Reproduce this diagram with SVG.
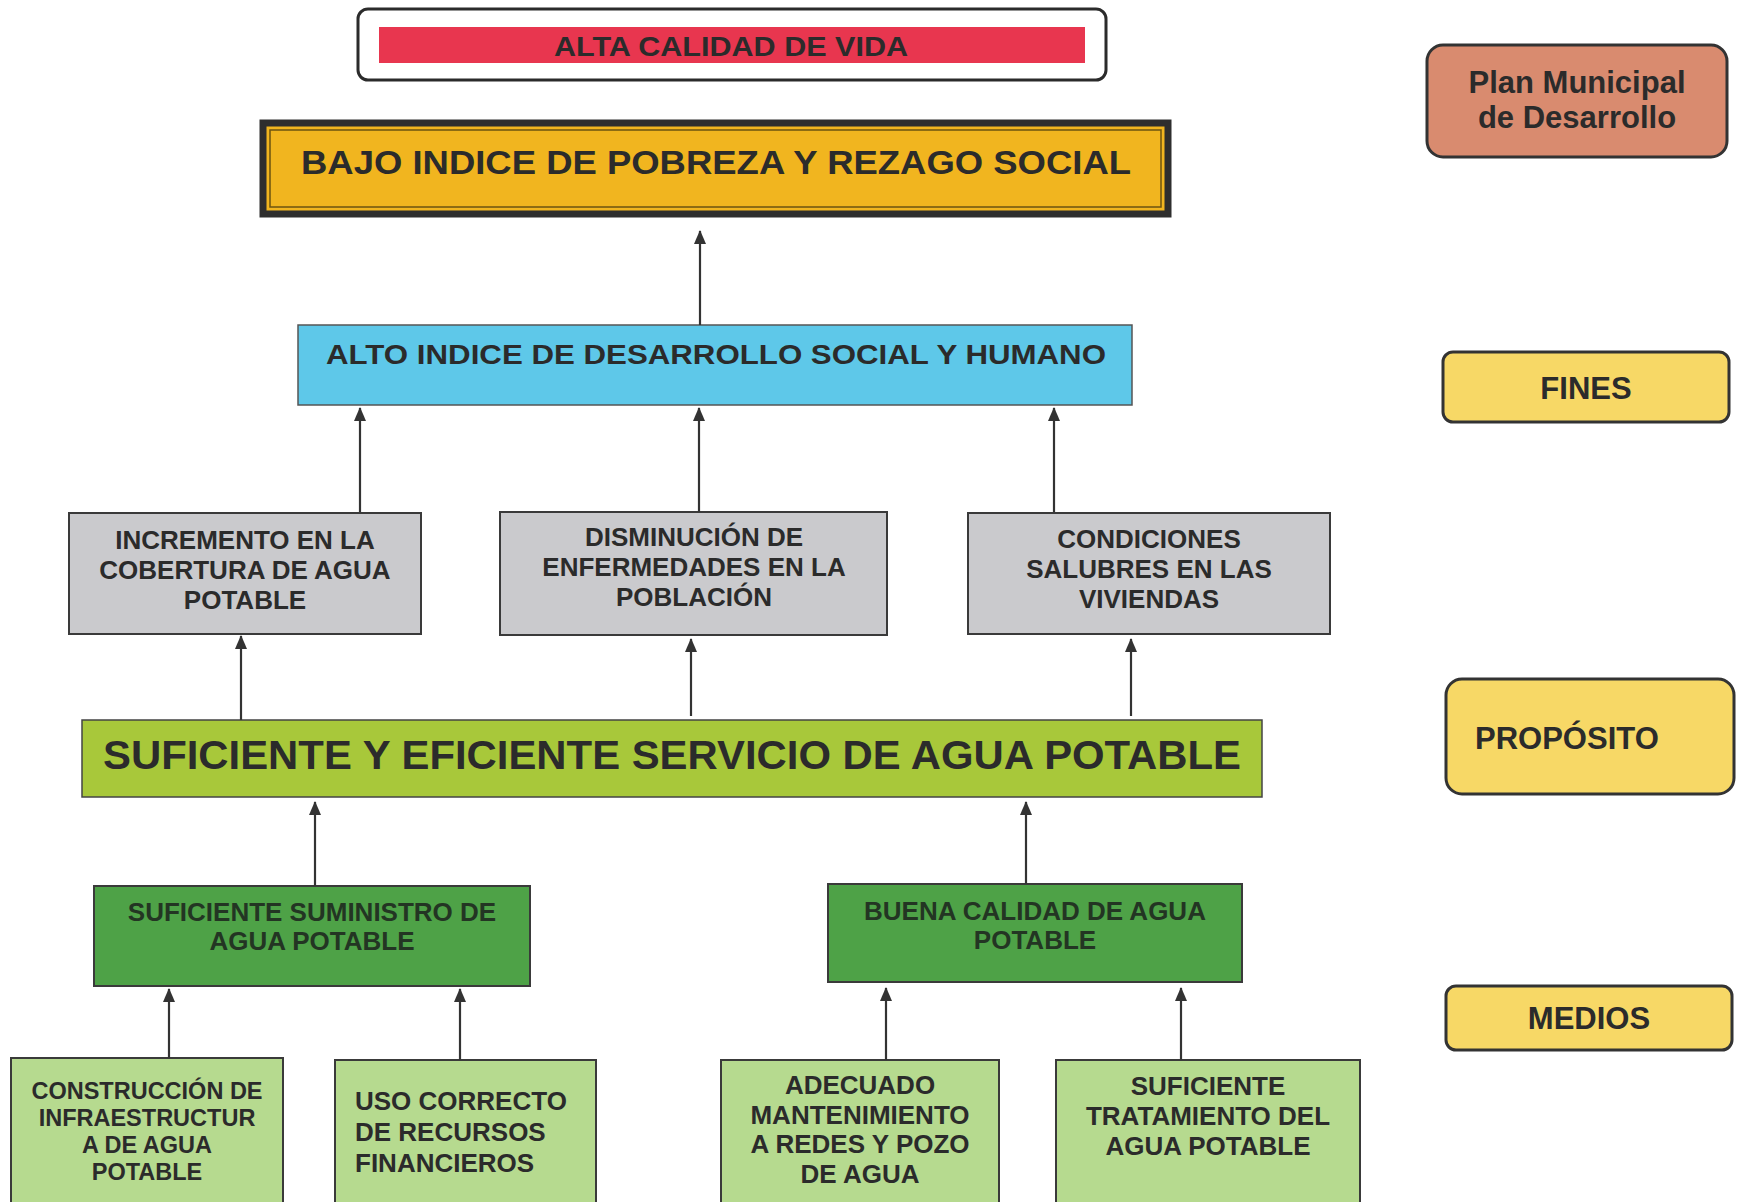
<svg xmlns="http://www.w3.org/2000/svg" width="1737" height="1202" viewBox="0 0 1737 1202">
<defs>
<marker id="ah" viewBox="0 0 14 12" refX="13" refY="6" markerWidth="14" markerHeight="12" markerUnits="userSpaceOnUse" orient="auto">
<path d="M0,0 L14,6 L0,12 z" fill="#333"/>
</marker>
<style>
text{font-family:"Liberation Sans",Arial,sans-serif;font-weight:bold;fill:#2b2b2b;text-anchor:middle}
.box{stroke:#3a3a3a;stroke-width:2}
.grey{fill:#cacacd}
.dg{fill:#4ea247}
.lg{fill:#b6da8f}
.lab{fill:#f7d866;stroke:#333;stroke-width:3}
.conn line{stroke:#333;stroke-width:2.2;marker-end:url(#ah)}
.t26{font-size:26px}
.t23{font-size:23.5px}
.dk{fill:#233523}
.side{font-size:31px}
</style>
</defs>
<rect width="1737" height="1202" fill="#ffffff"/>

<g id="alta">
<rect x="358" y="9" width="748" height="71" rx="10" fill="#fff" stroke="#2b2b2b" stroke-width="3"/>
<rect x="379" y="27" width="706" height="36" fill="#e8364f"/>
<text x="731" y="56" font-size="27" textLength="354" lengthAdjust="spacingAndGlyphs">ALTA CALIDAD DE VIDA</text>
</g>

<g id="bajo">
<rect x="263" y="123" width="905" height="91" fill="#f1b51f" stroke="#2e2e2e" stroke-width="7"/>
<rect x="270" y="130" width="891" height="77" fill="none" stroke="#6b5310" stroke-width="1.5"/>
<text x="716" y="174" font-size="33" textLength="830" lengthAdjust="spacingAndGlyphs">BAJO INDICE DE POBREZA Y REZAGO SOCIAL</text>
</g>

<g id="alto">
<rect x="298" y="325" width="834" height="80" fill="#5ec8e9" stroke="#555" stroke-width="1.5"/>
<text x="716" y="364" font-size="27" textLength="780" lengthAdjust="spacingAndGlyphs">ALTO INDICE DE DESARROLLO SOCIAL Y HUMANO</text>
</g>

<g id="incremento">
<rect class="box grey" x="69" y="513" width="352" height="121"/>
<text class="t26" x="245" y="549">INCREMENTO EN LA</text>
<text class="t26" x="245" y="579">COBERTURA DE AGUA</text>
<text class="t26" x="245" y="609">POTABLE</text>
</g>

<g id="disminucion">
<rect class="box grey" x="500" y="512" width="387" height="123"/>
<text class="t26" x="694" y="546">DISMINUCIÓN DE</text>
<text class="t26" x="694" y="576">ENFERMEDADES EN LA</text>
<text class="t26" x="694" y="606">POBLACIÓN</text>
</g>

<g id="condiciones">
<rect class="box grey" x="968" y="513" width="362" height="121"/>
<text class="t26" x="1149" y="548">CONDICIONES</text>
<text class="t26" x="1149" y="578">SALUBRES EN LAS</text>
<text class="t26" x="1149" y="608">VIVIENDAS</text>
</g>

<g id="servicio">
<rect x="82" y="720" width="1180" height="77" fill="#a8c83a" stroke="#444" stroke-width="1.5"/>
<text x="672" y="769" font-size="40" textLength="1138" lengthAdjust="spacingAndGlyphs">SUFICIENTE Y EFICIENTE SERVICIO DE AGUA POTABLE</text>
</g>

<g id="suministro">
<rect class="box dg" x="94" y="886" width="436" height="100"/>
<text class="t26 dk" x="312" y="921">SUFICIENTE SUMINISTRO DE</text>
<text class="t26 dk" x="312" y="950">AGUA POTABLE</text>
</g>

<g id="calidad">
<rect class="box dg" x="828" y="884" width="414" height="98"/>
<text class="t26 dk" x="1035" y="920">BUENA CALIDAD DE AGUA</text>
<text class="t26 dk" x="1035" y="949">POTABLE</text>
</g>

<g id="construccion">
<rect class="box lg" x="11" y="1058" width="272" height="150"/>
<text class="t23" x="147" y="1099">CONSTRUCCIÓN DE</text>
<text class="t23" x="147" y="1126">INFRAESTRUCTUR</text>
<text class="t23" x="147" y="1153">A DE AGUA</text>
<text class="t23" x="147" y="1180">POTABLE</text>
</g>

<g id="uso">
<rect class="box lg" x="335" y="1060" width="261" height="150"/>
<text class="t26" x="355" y="1110" style="text-anchor:start">USO CORRECTO</text>
<text class="t26" x="355" y="1141" style="text-anchor:start">DE RECURSOS</text>
<text class="t26" x="355" y="1172" style="text-anchor:start">FINANCIEROS</text>
</g>

<g id="adecuado">
<rect class="box lg" x="721" y="1060" width="278" height="150"/>
<text class="t26" x="860" y="1094">ADECUADO</text>
<text class="t26" x="860" y="1124">MANTENIMIENTO</text>
<text class="t26" x="860" y="1153">A REDES Y POZO</text>
<text class="t26" x="860" y="1183">DE AGUA</text>
</g>

<g id="tratamiento">
<rect class="box lg" x="1056" y="1060" width="304" height="150"/>
<text class="t26" x="1208" y="1095">SUFICIENTE</text>
<text class="t26" x="1208" y="1125">TRATAMIENTO DEL</text>
<text class="t26" x="1208" y="1155">AGUA POTABLE</text>
</g>

<g id="plan">
<rect x="1427" y="45" width="300" height="112" rx="16" fill="#d98b6f" stroke="#333" stroke-width="3"/>
<text class="side" x="1577" y="93">Plan Municipal</text>
<text class="side" x="1577" y="128">de Desarrollo</text>
</g>

<g id="fines">
<rect class="lab" x="1443" y="352" width="286" height="70" rx="10"/>
<text class="side" x="1586" y="399">FINES</text>
</g>

<g id="proposito">
<rect class="lab" x="1446" y="679" width="288" height="115" rx="16"/>
<text class="side" x="1475" y="749" style="text-anchor:start">PROPÓSITO</text>
</g>

<g id="medios">
<rect class="lab" x="1446" y="986" width="286" height="64" rx="10"/>
<text class="side" x="1589" y="1029">MEDIOS</text>
</g>

<g id="connectors" class="conn">
<line x1="700" y1="325" x2="700" y2="231"/>
<line x1="360" y1="512" x2="360" y2="408"/>
<line x1="699" y1="512" x2="699" y2="408"/>
<line x1="1054" y1="512" x2="1054" y2="408"/>
<line x1="241" y1="720" x2="241" y2="636"/>
<line x1="691" y1="716" x2="691" y2="639"/>
<line x1="1131" y1="716" x2="1131" y2="639"/>
<line x1="315" y1="886" x2="315" y2="802"/>
<line x1="1026" y1="884" x2="1026" y2="802"/>
<line x1="169" y1="1058" x2="169" y2="989"/>
<line x1="460" y1="1060" x2="460" y2="989"/>
<line x1="886" y1="1060" x2="886" y2="988"/>
<line x1="1181" y1="1060" x2="1181" y2="988"/>
</g>
</svg>
